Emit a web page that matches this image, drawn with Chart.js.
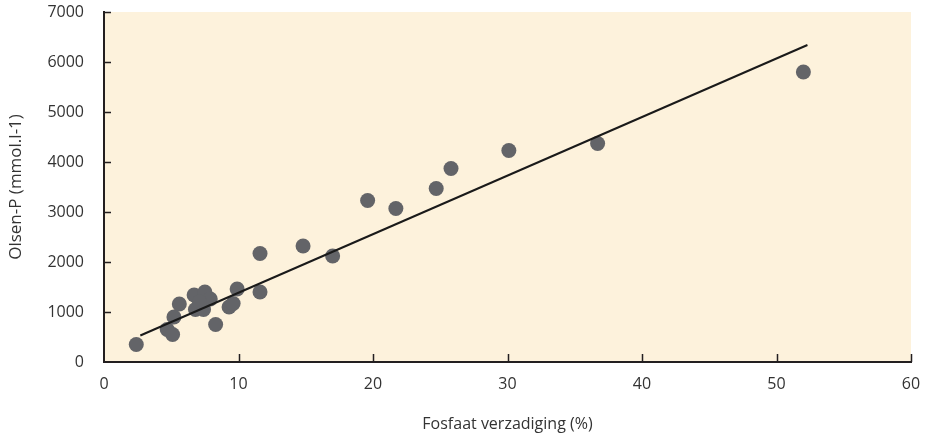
<!DOCTYPE html>
<html>
<head>
<meta charset="utf-8">
<script src="https://cdn.jsdelivr.net/npm/chart.js@4/dist/chart.umd.min.js"></script>
<style>
  html, body { margin: 0; padding: 0; background: #ffffff; }
  #wrap { width: 926px; height: 434px; }
</style>
</head>
<body>
<div id="wrap"><canvas id="phosphate_chart" width="926" height="434"></canvas></div>
<script>
// Measured samples: phosphate saturation (%) against Olsen-P
const saturation = [2.4, 4.7, 5.1, 5.2, 5.6, 6.7, 7.5, 6.8, 7.4, 7.9, 7.1, 8.3, 9.3, 9.6, 9.9, 11.6, 11.6, 14.8, 17.0, 19.6, 21.7, 24.7, 25.8, 30.1, 36.7, 52.0];
const olsenP = [350, 650, 550, 900, 1160, 1340, 1400, 1050, 1050, 1260, 1200, 750, 1100, 1170, 1460, 1400, 2170, 2320, 2120, 3230, 3070, 3470, 3870, 4230, 4370, 5800];

// Fitted regression line (start and end)
const fitX = [2.7, 52.3];
const fitY = [530, 6340];

const xTicks = [0, 10, 20, 30, 40, 50, 60];
const yTicks = [0, 1000, 2000, 3000, 4000, 5000, 6000, 7000];

const textColor = "#333333";
const axisColor = "#231f20";

// cream plot background and short inward tick marks
const plotFrame = {
   id: "plotFrame",
   beforeDraw(chart) {
      const a = chart.chartArea;
      const ctx = chart.ctx;
      ctx.save();
      ctx.fillStyle = "#fdf2dc";
      ctx.fillRect(a.left, a.top, a.right - a.left, a.bottom - a.top);
      ctx.restore();
   },
   afterDatasetsDraw(chart) {
      const a = chart.chartArea;
      const ctx = chart.ctx;
      const xs = chart.scales.x;
      const ys = chart.scales.y;
      ctx.save();
      ctx.strokeStyle = axisColor;
      ctx.lineWidth = 1.5;
      ctx.beginPath();
      xTicks.slice(1).forEach(v => {
         const px = Math.round(xs.getPixelForValue(v)) + 0.5;
         ctx.moveTo(px, a.bottom);
         ctx.lineTo(px, a.bottom - 8);
      });
      yTicks.slice(1).forEach(v => {
         const py = Math.round(ys.getPixelForValue(v)) + 0.5;
         ctx.moveTo(a.left, py);
         ctx.lineTo(a.left + 7, py);
      });
      ctx.stroke();
      ctx.restore();
   }
};

const points = saturation.map((x, i) => ({ x: x, y: olsenP[i] }));
const fitLine = fitX.map((x, i) => ({ x: x, y: fitY[i] }));

// keep the scales from adding their own label overhang padding
function noOverhang(scale) {
   scale.paddingTop = 0;
   scale.paddingBottom = 0;
   scale.paddingLeft = 0;
   scale.paddingRight = 0;
}

Chart.defaults.font.family = "'Open Sans', sans-serif";
Chart.defaults.color = textColor;

new Chart(document.getElementById("phosphate_chart").getContext("2d"), {
   type: "scatter",
   data: {
      datasets: [
         {
            type: "line",
            data: fitLine,
            borderColor: "#1a1a1a",
            borderWidth: 2,
            pointRadius: 0,
            fill: false,
            order: 0
         },
         {
            data: points,
            backgroundColor: "#636468",
            borderWidth: 0,
            pointRadius: 7.5,
            order: 1
         }
      ]
   },
   options: {
      responsive: false,
      animation: false,
      events: [],
      layout: { padding: { top: 12, right: 15, left: 0, bottom: 0 } },
      plugins: {
         legend: { display: false },
         tooltip: { enabled: false }
      },
      scales: {
         x: {
            type: "linear",
            min: 0,
            max: 60,
            afterBuildTicks(scale) { scale.ticks = xTicks.map(v => ({ value: v })); },
            grid: { display: false, drawTicks: false },
            border: { display: true, color: axisColor, width: 2 },
            ticks: { padding: 13, font: { size: 16 }, color: textColor, callback: v => String(v) },
            title: {
               display: true,
               text: "Fosfaat verzadiging (%)",
               font: { size: 16 },
               color: textColor,
               padding: { top: 10, bottom: 0 }
            },
            afterFit(scale) { scale.height = 72; noOverhang(scale); }
         },
         y: {
            type: "linear",
            min: 0,
            max: 7000,
            afterBuildTicks(scale) { scale.ticks = yTicks.map(v => ({ value: v })); },
            grid: { display: false, drawTicks: false },
            border: { display: true, color: axisColor, width: 2 },
            ticks: { padding: 20, font: { size: 16 }, color: textColor, callback: v => String(v) },
            title: {
               display: true,
               text: "Olsen-P (mmol.l-1)",
               font: { size: 17 },
               color: textColor,
               padding: { top: 6, bottom: 6 }
            },
            afterFit(scale) { scale.width = 104; noOverhang(scale); }
         }
      }
   },
   plugins: [plotFrame]
});
</script>
</body>
</html>
